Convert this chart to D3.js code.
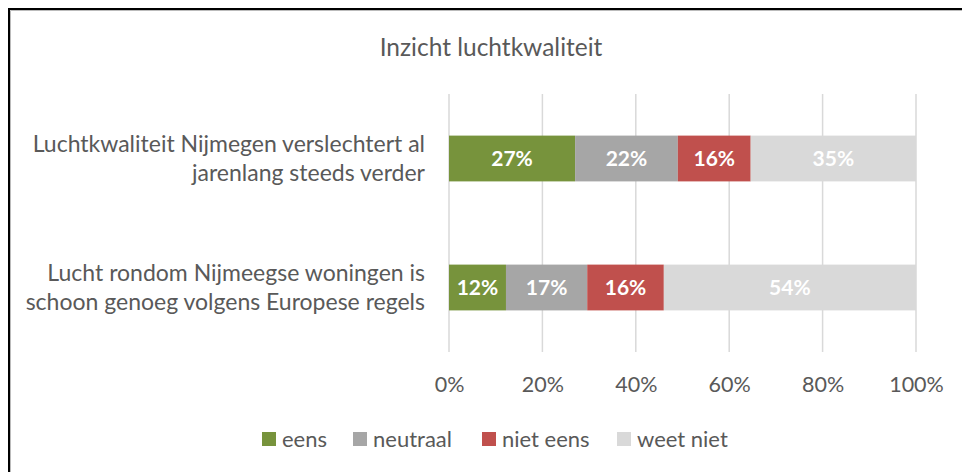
<!DOCTYPE html>
<html>
<head>
<meta charset="utf-8">
<script src="https://cdn.jsdelivr.net/npm/d3@7"></script>
<style>
  body { margin: 0; background: #fff; }
  svg { font-family: Lato, "Open Sans", sans-serif; }
</style>
</head>
<body>
<div id="chart"></div>
<script>
// data
var categories = [
  ['Luchtkwaliteit Nijmegen verslechtert al', 'jarenlang steeds verder'],
  ['Lucht rondom Nijmeegse woningen is', 'schoon genoeg volgens Europese regels']
];
var keys = ['eens', 'neutraal', 'niet eens', 'weet niet'];
var eens = [27.0, 12.2];
var neutraal = [22.0, 17.4];
var nietEens = [15.6, 16.4];
var weetNiet = [35.4, 54.0];
var xTicks = [0, 20, 40, 60, 80, 100];
var colors = ['#77933C', '#A6A6A6', '#C0504D', '#D9D9D9'];

var width = 962, height = 472;
var plot = {left: 449, right: 916, top: 94, bottom: 352};

var rows = categories.map(function(c, i) {
  return {cat: i, 'eens': eens[i], 'neutraal': neutraal[i], 'niet eens': nietEens[i], 'weet niet': weetNiet[i]};
});
var series = d3.stack().keys(keys)(rows);

var svg = d3.select('#chart').append('svg')
  .attr('width', width)
  .attr('height', height);

svg.append('rect').attr('width', width).attr('height', height).attr('fill', '#fff');

// frame (only the top and left edges are inside the picture)
svg.append('path')
  .attr('d', 'M9,' + height + 'V9H' + width)
  .attr('fill', 'none')
  .attr('stroke', '#000')
  .attr('stroke-width', 2);
svg.append('path')
  .attr('d', 'M10.5,' + height + 'V10.5H' + width)
  .attr('fill', 'none')
  .attr('stroke', '#bbb')
  .attr('stroke-width', 1);

var x = d3.scaleLinear().domain([0, 100]).range([plot.left, plot.right]);
var y = d3.scaleBand().domain(d3.range(categories.length))
  .range([plot.top, plot.bottom])
  .paddingInner(0.645).paddingOuter(0.3225);

svg.append('text')
  .attr('x', 491).attr('y', 56)
  .attr('text-anchor', 'middle')
  .attr('fill', '#595959')
  .attr('font-size', 24.5)
  .text('Inzicht luchtkwaliteit');

// gridlines
svg.append('g').selectAll('line')
  .data(xTicks)
  .enter().append('line')
    .attr('x1', function(d) { return x(d); })
    .attr('x2', function(d) { return x(d); })
    .attr('y1', plot.top).attr('y2', plot.bottom)
    .attr('stroke', '#D9D9D9')
    .attr('stroke-width', 1.5);

// x axis labels
var xAxis = svg.append('g')
  .attr('transform', 'translate(0,' + plot.bottom + ')')
  .call(d3.axisBottom(x).tickValues(xTicks).tickSize(0).tickPadding(25)
    .tickFormat(function(d) { return d + '%'; }));
xAxis.select('.domain').remove();
xAxis.selectAll('text')
  .attr('fill', '#595959')
  .attr('font-size', 21.5)
  .attr('font-family', 'Lato, "Open Sans", sans-serif');

// category labels
var yLab = svg.append('g').selectAll('text')
  .data(categories)
  .enter().append('text')
    .attr('text-anchor', 'end')
    .attr('fill', '#595959')
    .attr('font-size', 23);
yLab.selectAll('tspan')
  .data(function(d, i) { return d.map(function(t, j) { return {t: t, i: i, j: j}; }); })
  .enter().append('tspan')
    .attr('x', 425)
    .attr('y', function(d) { return y(d.i) + y.bandwidth() / 2 + (d.j === 0 ? -7 : 22); })
    .text(function(d) { return d.t; });

// bars
var groups = svg.append('g').selectAll('g')
  .data(series)
  .enter().append('g')
    .attr('fill', function(d, i) { return colors[i]; });

groups.selectAll('rect')
  .data(function(d) { return d; })
  .enter().append('rect')
    .attr('x', function(d) { return x(d[0]); })
    .attr('y', function(d) { return y(d.data.cat); })
    .attr('width', function(d) { return x(d[1]) - x(d[0]); })
    .attr('height', y.bandwidth());

groups.selectAll('text')
  .data(function(d) { return d; })
  .enter().append('text')
    .attr('x', function(d) { return (x(d[0]) + x(d[1])) / 2; })
    .attr('y', function(d) { return y(d.data.cat) + y.bandwidth() / 2 + 7.5; })
    .attr('text-anchor', 'middle')
    .attr('fill', '#fff')
    .attr('font-weight', 'bold')
    .attr('font-size', 21)
    .text(function(d) { return Math.round(d[1] - d[0]) + '%'; });

// legend
var legendX = [262, 353, 482, 617];
var legend = svg.append('g').selectAll('g')
  .data(keys)
  .enter().append('g')
    .attr('transform', function(d, i) { return 'translate(' + legendX[i] + ',432)'; });
legend.append('rect')
  .attr('width', 14).attr('height', 14)
  .attr('fill', function(d, i) { return colors[i]; });
legend.append('text')
  .attr('x', 20).attr('y', 15)
  .attr('fill', '#595959')
  .attr('font-size', 22)
  .text(function(d) { return d; });
</script>
</body>
</html>
